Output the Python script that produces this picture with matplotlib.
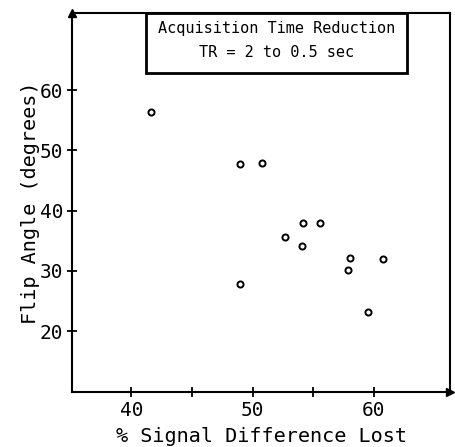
import matplotlib
matplotlib.use("Agg")
import matplotlib.pyplot as plt
from matplotlib.patches import Rectangle

# Data
signal_lost = [41.6, 49.0, 50.8, 54.2, 55.6, 52.7, 54.1, 58.0, 60.8, 57.9, 49.0, 59.5]
flip_angle = [56.3, 47.8, 47.9, 38.0, 37.9, 35.6, 34.1, 32.1, 32.0, 30.1, 27.9, 23.1]

x_ticks = [40, 45, 50, 55, 60]
x_labels = ["40", "", "50", "", "60"]
y_ticks = [20, 30, 40, 50, 60]
y_labels = ["20", "30", "40", "50", "60"]

FONT = "DejaVu Sans Mono"

fig = plt.figure(figsize=(4.56, 4.47), dpi=100)
ax = fig.add_axes([0.158, 0.123, 0.829, 0.848])

ax.plot(signal_lost, flip_angle, linestyle="none", marker="o", markersize=4.4,
        markerfacecolor="white", markeredgecolor="black", markeredgewidth=1.4)

ax.set_xlim(35.1, 66.3)
ax.set_ylim(9.9, 72.8)

for s in ax.spines.values():
    s.set_linewidth(1.5)

ax.set_xticks(x_ticks)
ax.set_xticklabels(x_labels, family=FONT, fontsize=14)
ax.set_yticks(y_ticks)
ax.set_yticklabels(y_labels, family=FONT, fontsize=14)
ax.tick_params(direction="inout", length=7, width=1.3, pad=3)

ax.set_xlabel("% Signal Difference Lost", family=FONT, fontsize=14.5, labelpad=5)
ax.set_ylabel("Flip Angle (degrees)", family=FONT, fontsize=14.5, labelpad=0)

# arrow heads on the axis ends
ax.plot([0], [1], marker="^", color="black", markersize=6, transform=ax.transAxes, clip_on=False)
ax.plot([1], [0], marker=">", color="black", markersize=6, transform=ax.transAxes, clip_on=False)

# title box
ax.add_patch(Rectangle((0.196, 0.842), 0.69, 0.158, transform=ax.transAxes,
                       fill=False, edgecolor="black", linewidth=2, clip_on=False))
ax.text(0.541, 0.960, "Acquisition Time Reduction", transform=ax.transAxes,
        ha="center", va="center", family=FONT, fontsize=11)
ax.text(0.541, 0.897, "TR = 2 to 0.5 sec", transform=ax.transAxes,
        ha="center", va="center", family=FONT, fontsize=11)

fig.savefig("out.png", dpi=100)
